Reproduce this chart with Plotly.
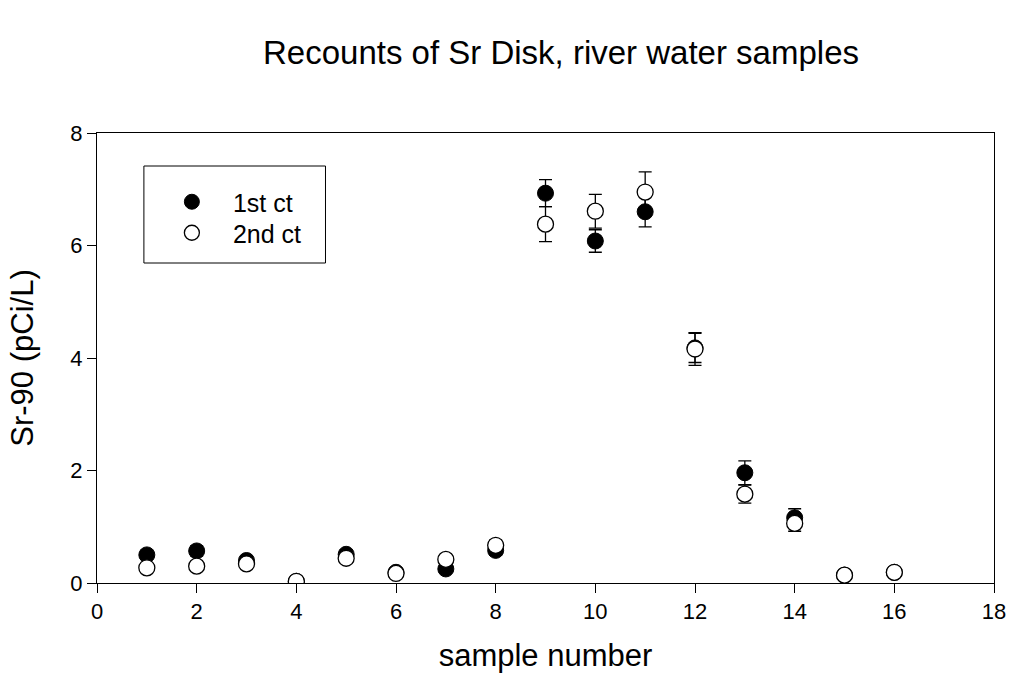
import plotly.graph_objects as go

samples = [1, 2, 3, 4, 5, 6, 7, 8, 9, 10, 11, 12, 13, 14, 15, 16]
first_ct = [0.50, 0.57, 0.40, 0.03, 0.51, 0.19, 0.25, 0.58, 6.93, 6.08, 6.60, 4.18, 1.96, 1.16, 0.14, 0.19]
first_err = [0.08, 0.09, 0.07, 0.03, 0.08, 0.06, 0.06, 0.09, 0.24, 0.20, 0.27, 0.26, 0.21, 0.16, 0.05, 0.06]
second_ct = [0.27, 0.30, 0.34, 0.03, 0.44, 0.17, 0.42, 0.67, 6.38, 6.61, 6.95, 4.16, 1.58, 1.06, 0.14, 0.19]
second_err = [0.06, 0.06, 0.07, 0.03, 0.08, 0.05, 0.07, 0.09, 0.31, 0.30, 0.36, 0.29, 0.16, 0.14, 0.05, 0.06]

font_family = "Liberation Sans, Arial, sans-serif"

fig = go.Figure()
fig.add_trace(go.Scatter(
    x=samples, y=first_ct, mode="markers", name="1st ct", showlegend=False,
    marker=dict(symbol="circle", size=16, color="black", line=dict(color="black", width=1)),
    error_y=dict(type="data", array=first_err, color="black", thickness=1.3, width=6.5),
))
fig.add_trace(go.Scatter(
    x=samples, y=second_ct, mode="markers", name="2nd ct", showlegend=False,
    marker=dict(symbol="circle", size=16, color="white", line=dict(color="black", width=1.3)),
    error_y=dict(type="data", array=second_err, color="black", thickness=1.3, width=6.5),
))
# legend-only entries (each in its own legend for precise placement)
fig.add_trace(go.Scatter(
    x=[None], y=[None], mode="markers", name="1st ct", legend="legend",
    marker=dict(symbol="circle", size=15, color="black", line=dict(color="black", width=1)),
))
fig.add_trace(go.Scatter(
    x=[None], y=[None], mode="markers", name="2nd ct", legend="legend2",
    marker=dict(symbol="circle", size=15, color="white", line=dict(color="black", width=1.3)),
))

leg_common = dict(xanchor="left", yanchor="middle", bgcolor="rgba(0,0,0,0)",
                  borderwidth=0, font=dict(size=25), itemwidth=72)

fig.update_layout(
    width=1018, height=694,
    margin=dict(l=97, r=22, t=133, b=111),
    plot_bgcolor="white", paper_bgcolor="white",
    font=dict(family=font_family, size=22, color="black"),
    title=dict(text="Recounts of Sr Disk, river water samples", x=561 / 1018, xanchor="center",
               y=1 - 52 / 694, yanchor="middle", font=dict(size=33, family=font_family)),
    showlegend=True,
    legend=dict(x=(151 - 97) / 899, y=(583 - 202) / 450, **leg_common),
    legend2=dict(x=(151 - 97) / 899, y=(583 - 233) / 450, **leg_common),
    shapes=[dict(type="rect", xref="paper", yref="paper",
                 x0=(144 - 97) / 899, x1=(326 - 97) / 899,
                 y0=(583 - 263) / 450, y1=(583 - 166) / 450,
                 line=dict(color="black", width=1), fillcolor="rgba(0,0,0,0)")],
)
fig.update_xaxes(
    range=[0, 18], tickvals=list(range(0, 19, 2)), ticks="outside", ticklen=9, tickwidth=1,
    tickcolor="black", showline=True, linecolor="black", linewidth=1, mirror=True,
    showgrid=False, zeroline=False, tickfont=dict(size=22),
    title=dict(text="sample number", standoff=20, font=dict(size=31)),
)
fig.update_yaxes(
    range=[0, 8], tickvals=list(range(0, 9, 2)), ticks="outside", ticklen=9, tickwidth=1,
    tickcolor="black", showline=True, linecolor="black", linewidth=1, mirror=True,
    showgrid=False, zeroline=False, tickfont=dict(size=22),
    title=dict(text="Sr-90 (pCi/L)", standoff=27, font=dict(size=31)),
)

fig.write_html("out.html")
